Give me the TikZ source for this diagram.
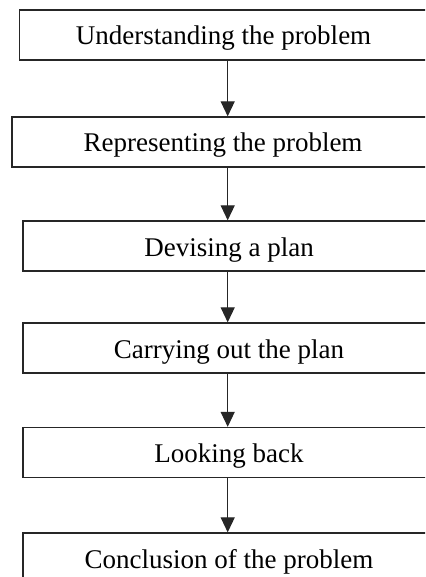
\documentclass[tikz,border=0pt]{standalone}
\usepackage{fontspec}
\setmainfont{Liberation Serif}
\usetikzlibrary{arrows.meta}

\begin{document}
\begin{tikzpicture}[x=1pt,y=-1pt,
    stage/.style={draw=black!85,line width=1.3pt,rectangle,minimum height=50pt,
      inner sep=0pt,text height=22pt,text depth=2pt,
      font=\fontsize{27}{30}\selectfont},
    flow/.style={draw=black!85,line width=1.2pt,-{Triangle[length=15pt,width=14pt]}}]
    % page size and cut of the boxes at the right side
    \useasboundingbox (0,0) rectangle (425,577);
    \clip (0,0) rectangle (425,577);

    % x position of the arrows
    \coordinate (spine) at (227.7,0);

    \node[stage,minimum width=408pt] (understand) at (223.5,35) {Understanding the problem};
    \node[stage,minimum width=422pt] (represent) at (223,142) {Representing the problem};
    \node[stage,minimum width=412pt] (devise) at (229,246) {Devising a plan};
    \node[stage,minimum width=412pt] (carry) at (229,348) {Carrying out the plan};
    \node[stage,minimum width=412pt] (lookback) at (229,452.5) {Looking back};
    \node[stage,minimum width=412pt] (conclude) at (229,558) {Conclusion of the problem};

    \draw[flow] (understand.south -| spine) -- (represent.north -| spine);
    \draw[flow] (represent.south -| spine) -- (devise.north -| spine);
    \draw[flow] (devise.south -| spine) -- (carry.north -| spine);
    \draw[flow] (carry.south -| spine) -- (lookback.north -| spine);
    \draw[flow] (lookback.south -| spine) -- (conclude.north -| spine);
\end{tikzpicture}
\end{document}
